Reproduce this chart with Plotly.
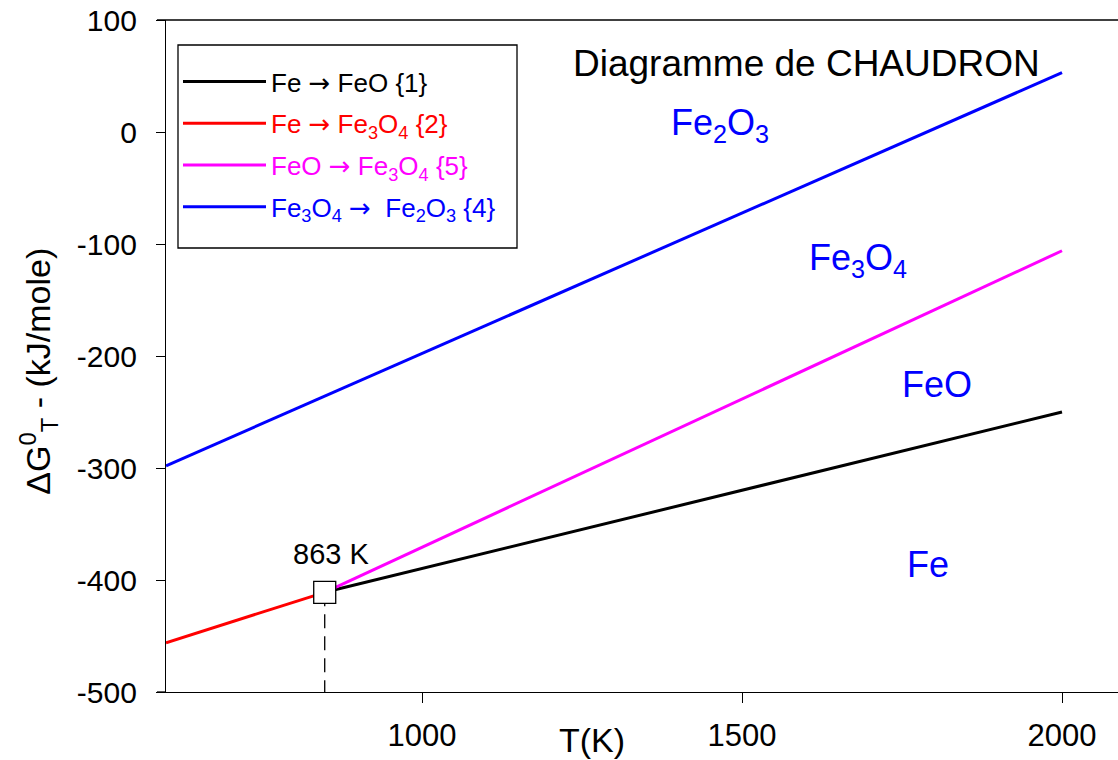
import plotly.graph_objects as go

# Data
T_red = [600, 848]
G_red = [-456, -411]
T_black = [848, 2000]
G_black = [-411, -250]
T_pink = [848, 2000]
G_pink = [-411, -106]
T_blue = [600, 2000]
G_blue = [-298, 53]

T_cross = [848]
G_cross = [-411]
cross_label = "863 K"

x_ticks = [1000, 1500, 2000]
x_ticktext = ["1000", "1500", "2000"]
y_ticks = [-500, -400, -300, -200, -100, 0, 100]
y_ticktext = ["-500", "-400", "-300", "-200", "-100", "0", "100"]

regions = ["Fe<sub>2</sub>O<sub>3</sub>", "Fe<sub>3</sub>O<sub>4</sub>", "FeO", "Fe"]
region_T = [1466, 1681, 1805, 1791]
region_G = [6, -114, -225, -386]

FONT = "Arial, Liberation Sans, sans-serif"
ARROW = '<span style="font-family:DejaVu Sans">→</span>'

fig = go.Figure()

def legname(txt, col):
    return f'<span style="color:{col}">{txt}</span>'

fig.add_trace(go.Scatter(x=T_black, y=G_black, mode="lines", line=dict(color="black", width=3),
                         legendgroup="g1",
                         name=legname(f"Fe {ARROW} FeO {{1}}", "black")))
fig.add_trace(go.Scatter(x=T_red, y=G_red, mode="lines", line=dict(color="#ff0000", width=3),
                         legendgroup="g2",
                         name=legname(f"Fe {ARROW} Fe<sub>3</sub>O<sub>4</sub> {{2}}", "#ff0000")))
fig.add_trace(go.Scatter(x=T_pink, y=G_pink, mode="lines", line=dict(color="#ff00ff", width=3),
                         legendgroup="g3",
                         name=legname(f"FeO {ARROW} Fe<sub>3</sub>O<sub>4</sub> {{5}}", "#ff00ff")))
fig.add_trace(go.Scatter(x=T_blue, y=G_blue, mode="lines", line=dict(color="#0000ff", width=3),
                         legendgroup="g4",
                         name=legname(f"Fe<sub>3</sub>O<sub>4</sub> {ARROW}  Fe<sub>2</sub>O<sub>3</sub> {{4}}", "#0000ff")))

# dashed drop line
fig.add_trace(go.Scatter(x=[T_cross[0], T_cross[0]], y=[G_cross[0], -500], mode="lines",
                         line=dict(color="black", width=1.3, dash="14px,8px"), showlegend=False))
fig.add_trace(go.Scatter(x=T_cross, y=G_cross, mode="markers",
                         marker=dict(symbol="square", size=22, color="white",
                                     line=dict(color="black", width=1.3)),
                         showlegend=False))

fig.add_annotation(x=T_cross[0], y=G_cross[0], text=cross_label, showarrow=False,
                   xanchor="center", yanchor="middle", yshift=38, xshift=6,
                   font=dict(size=29, color="black", family=FONT))

for txt, tx, gy in zip(regions, region_T, region_G):
    fig.add_annotation(x=tx, y=gy, text=txt, showarrow=False, xanchor="center", yanchor="middle",
                       font=dict(size=36, color="#0000ff", family=FONT))

fig.add_annotation(x=1600, y=61, text="Diagramme de CHAUDRON", showarrow=False,
                   xanchor="center", yanchor="middle", font=dict(size=37, color="black", family=FONT))

# axis titles
fig.add_annotation(xref="paper", yref="paper", x=-0.1345, y=0.478, text="ΔG<sup>0</sup><sub>T</sub> - (kJ/mole)",
                   textangle=-90, showarrow=False, xanchor="center", yanchor="middle",
                   font=dict(size=34, color="black", family=FONT))
fig.add_annotation(x=1266, xref="x", yref="paper", y=-0.0714, text="T(K)", showarrow=False,
                   xanchor="center", yanchor="middle", font=dict(size=34, color="black", family=FONT))

fig.update_layout(
    width=1118, height=760,
    margin=dict(l=166, r=0, t=20, b=68, autoexpand=False),
    paper_bgcolor="white", plot_bgcolor="white",
    font=dict(family=FONT, color="black", size=30),
    legend=dict(x=0.0126, y=0.9434, xanchor="left", yanchor="top",
                bgcolor="rgba(0,0,0,0)", borderwidth=0,
                font=dict(size=26, family=FONT), tracegroupgap=5, itemwidth=83),
    xaxis=dict(range=[600, 2087.5], tickvals=x_ticks, ticktext=x_ticktext, ticks="outside",
               ticklen=10, tickwidth=1.3, tickcolor="black", showline=True, linecolor="black",
               linewidth=1.3, showgrid=False, zeroline=False, ticklabelstandoff=6,
               tickfont=dict(size=31), ticklabeloverflow="allow", automargin=False),
    yaxis=dict(range=[-500, 100.05], tickvals=y_ticks, ticktext=y_ticktext, ticks="outside",
               ticklen=9, tickwidth=1.3, tickcolor="black", showline=True, linecolor="black",
               linewidth=1.3, showgrid=False, zeroline=False, ticklabelstandoff=13,
               tickfont=dict(size=30), ticklabeloverflow="allow", automargin=False),
)
# legend frame
fig.add_shape(type="rect", xref="paper", yref="paper", x0=0.0126, x1=0.3687, y0=0.6607, y1=0.9628,
              fillcolor="white", line=dict(color="black", width=1.3), layer="above")
# top border line and left extension of bottom axis
fig.add_shape(type="line", xref="paper", yref="paper", x0=-0.0095, x1=1, y0=1, y1=1,
              line=dict(color="black", width=1.3))
fig.add_shape(type="line", xref="paper", yref="paper", x0=-0.0095, x1=0, y0=0, y1=0,
              line=dict(color="black", width=1.3))

fig.write_html("out.html", config={"displayModeBar": False},
               post_script="document.body.style.margin='0';document.body.style.overflow='hidden';")
